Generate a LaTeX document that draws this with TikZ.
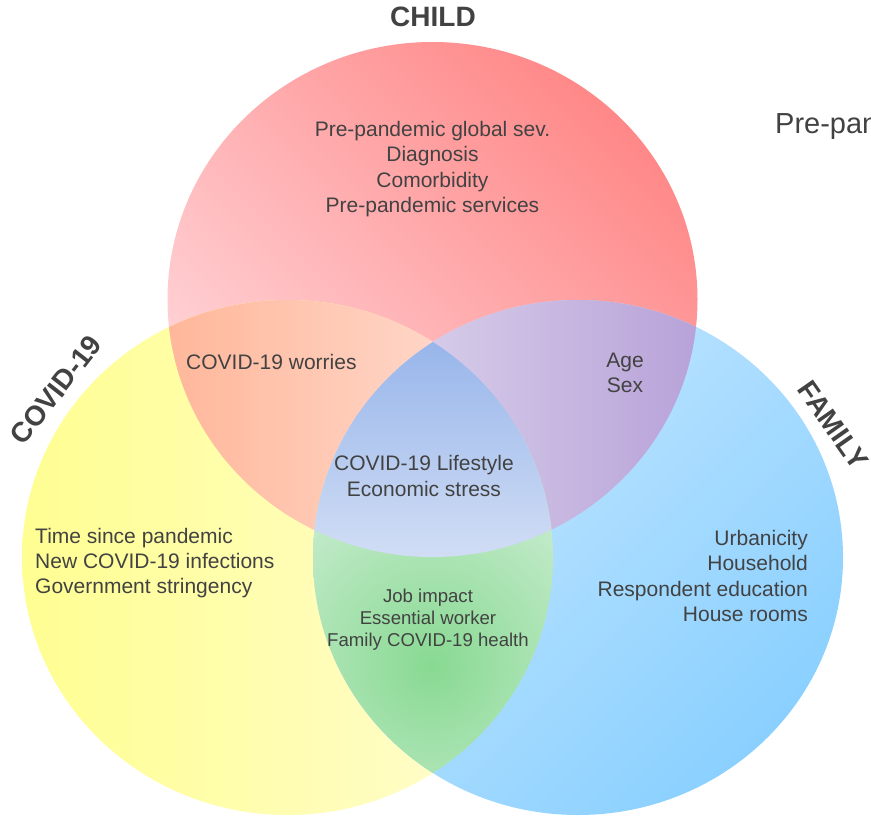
\documentclass[tikz,border=0pt]{standalone}
\usepackage{fontspec}
\setmainfont{Liberation Sans}
\definecolor{cdark}{HTML}{FF8888}
\definecolor{clight}{HTML}{FFD8DC}
\definecolor{ybright}{HTML}{FFFF80}
\definecolor{ypale}{HTML}{FFFCDC}
\definecolor{blight}{HTML}{C8E8FF}
\definecolor{bdark}{HTML}{8AD0FF}
\definecolor{oleft}{HTML}{FFA884}
\definecolor{oright}{HTML}{FFE4DC}
\definecolor{pleft}{HTML}{E4DFF1}
\definecolor{pright}{HTML}{A98ED0}
\definecolor{gin}{HTML}{88D992}
\definecolor{gout}{HTML}{D8F1DE}
\definecolor{ttop}{HTML}{8AACE8}
\definecolor{tbot}{HTML}{DFE7F7}
\definecolor{txt}{HTML}{424242}
\begin{document}
\begin{tikzpicture}[x=1pt,y=-1pt,
  lbl/.style={inner sep=0pt, text=txt, font=\fontsize{21}{25.3}\selectfont},
  small/.style={inner sep=0pt, text=txt, font=\fontsize{18.6}{22}\selectfont},
  ttl/.style={inner sep=0pt, text=txt, font=\fontsize{28}{30}\selectfont\bfseries}]
\useasboundingbox (0,0) rectangle (871,817);
% base circles
\shade[top color=cdark, bottom color=clight, shading angle=-45]
  (432.5,299.5) ellipse [x radius=265, y radius=257.5];
\begin{scope}
  \clip (287.5,557.5) ellipse [x radius=265.5, y radius=257.5];
  \shade[left color=ybright, right color=ypale] (-120,290) rectangle (620,820);
\end{scope}
\shade[top color=blight, bottom color=bdark, shading angle=45]
  (578,557.5) ellipse [x radius=265, y radius=257.5];
% child & covid
\begin{scope}
  \clip (432.5,299.5) ellipse [x radius=265, y radius=257.5];
  \clip (287.5,557.5) ellipse [x radius=265.5, y radius=257.5];
  \shade[left color=oleft, right color=oright] (34,290) rectangle (565,560);
\end{scope}
% child & family
\begin{scope}
  \clip (432.5,299.5) ellipse [x radius=265, y radius=257.5];
  \clip (578,557.5) ellipse [x radius=265, y radius=257.5];
  \shade[left color=pleft, right color=pright] (299,290) rectangle (831,560);
\end{scope}
% covid & family
\begin{scope}
  \clip (287.5,557.5) ellipse [x radius=265.5, y radius=257.5];
  \clip (578,557.5) ellipse [x radius=265, y radius=257.5];
  \shade[inner color=gin, outer color=gout] (432,665) circle (250);
\end{scope}
% triple
\begin{scope}
  \clip (432.5,299.5) ellipse [x radius=265, y radius=257.5];
  \clip (287.5,557.5) ellipse [x radius=265.5, y radius=257.5];
  \clip (578,557.5) ellipse [x radius=265, y radius=257.5];
  \shade[top color=ttop, bottom color=tbot] (0,288) rectangle (871,611);
\end{scope}
% titles
\node[ttl] (tchild) at (433,17) {CHILD};
\node[ttl, rotate=52] (tcovid) at (56,390) {COVID-19};
\node[ttl, rotate=-55] (tfamily) at (833,425) {FAMILY};
% texts
\node[lbl, align=center] (child) at (432.5,169) {Pre-pandemic global sev.\\Diagnosis\\Comorbidity\\Pre-pandemic services};
\node[lbl, anchor=west] (worries) at (186,362) {COVID-19 worries};
\node[lbl, align=center] (agesex) at (625,373) {Age\\Sex};
\node[lbl, align=center] (triple) at (424,476) {COVID-19 Lifestyle\\Economic stress};
\node[lbl, align=left, anchor=west] (covid) at (35,563) {Time since pandemic\\New COVID-19 infections\\Government stringency};
\node[lbl, align=right, anchor=east] (family) at (808,576) {Urbanicity\\Household\\Respondent education\\House rooms};
\node[small, align=center] (green) at (428,620) {Job impact\\Essential worker\\Family COVID-19 health};
\begin{scope}
  \clip (0,0) rectangle (871,817);
  \node[inner sep=0pt, text=txt, font=\fontsize{29}{32}\selectfont, anchor=base west] (prepan) at (775,133) {Pre-pandemic};
\end{scope}
\end{tikzpicture}
\end{document}
